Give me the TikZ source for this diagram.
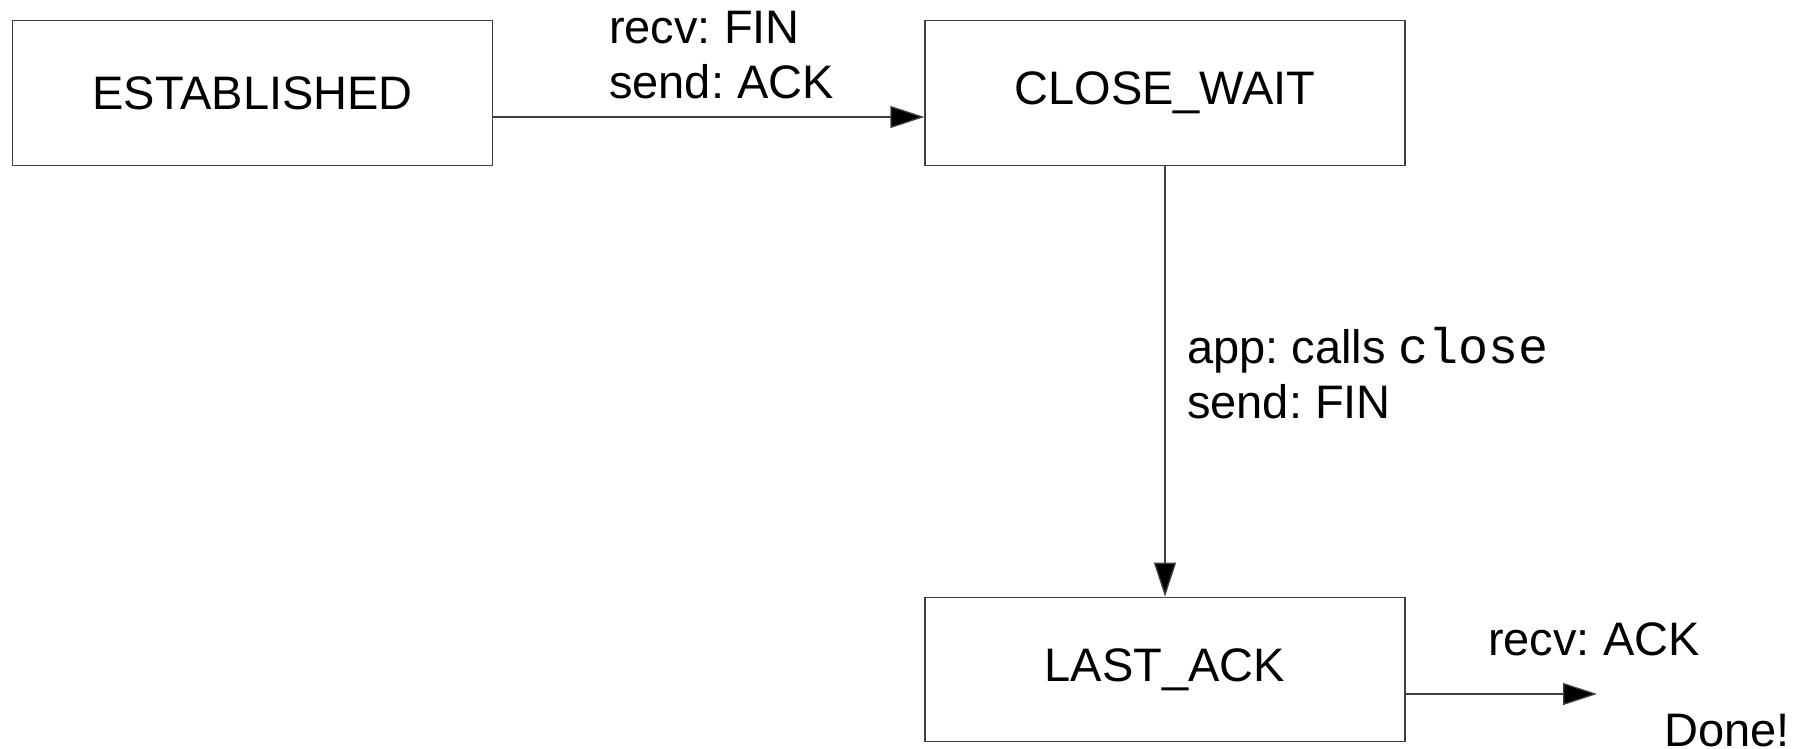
\documentclass[tikz,border=0pt]{standalone}
\usepackage{fontspec}
\setmainfont{Liberation Sans}
\setmonofont{Liberation Mono}
\usetikzlibrary{arrows.meta}
\frenchspacing
\begin{document}
\begin{tikzpicture}[x=1pt,y=-1pt,
  every node/.style={font=\fontsize{47pt}{55pt}\selectfont},
  statebox/.style={draw=black!75, line width=1.3pt, rectangle, minimum width=480pt, minimum height=144.5pt, inner sep=0pt},
  conn/.style={draw=black!75, line width=1.3pt, -{Triangle[length=34pt,width=22pt,fill=black]}},
  lbl/.style={align=left, anchor=base west, inner sep=0pt}]
\useasboundingbox (0,0) rectangle (1813,749);
\node[statebox] (est) at (252.6,93) {ESTABLISHED};
\node[statebox] (cw) at (1165,93) {CLOSE\_WAIT};
\node[statebox] (la) at (1165,669.5) {LAST\_ACK};
\coordinate (endpt) at (1597,694);
\draw[conn] ([yshift=-24pt]est.east) -- ([yshift=-24pt]cw.west);
\draw[conn] (cw.south) -- (la.north);
\draw[conn] ([yshift=-24.5pt]la.east) -- (endpt);
\node[lbl] (l1) at (609,99) {recv: FIN\\send: ACK};
\node[lbl] (l2) at (1187,418) {app: calls {\ttfamily\fontsize{50pt}{55pt}\selectfont close}\\send: FIN};
\node[lbl] (l3) at (1488,655) {recv: ACK};
\node[lbl] (l4) at (1664,746) {Done!};
\end{tikzpicture}
\end{document}
